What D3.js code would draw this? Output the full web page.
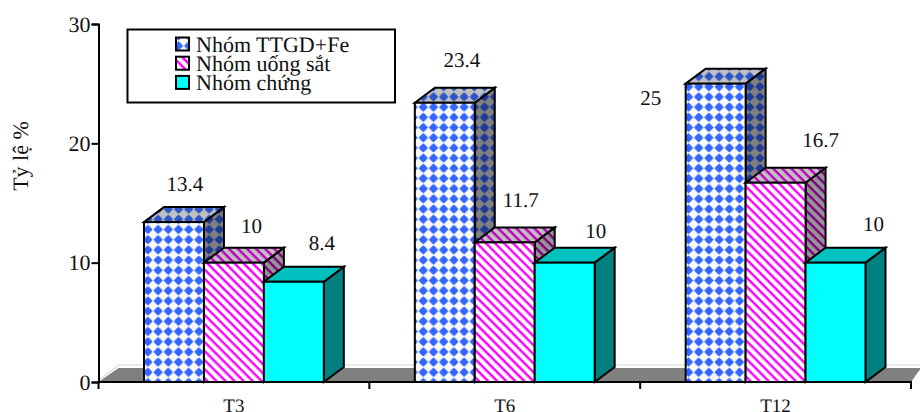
<!DOCTYPE html>
<html><head><meta charset="utf-8">
<script src="https://cdn.jsdelivr.net/npm/d3@7"></script>
<style>
html,body{margin:0;padding:0;background:#fff}
svg{display:block}
text{font-family:"Liberation Serif","Times New Roman",serif;fill:#111;text-rendering:geometricPrecision}
</style></head><body>
<svg id="chart" width="920" height="412"></svg>
<script>
const categories = ["T3", "T6", "T12"];
const seriesNames = ["Nhóm TTGD+Fe", "Nhóm uống sắt", "Nhóm chứng"];
const ttgdFe = [13.4, 23.4, 25];
const uongSat = [10, 11.7, 16.7];
const chung = [8.4, 10, 10];
const yTicks = [0, 10, 20, 30];
const axisTitle = "Tỷ lệ %";
const seriesValues = [ttgdFe, uongSat, chung];

const svg = d3.select("#chart");
const defs = svg.append("defs");

const x = d3.scaleBand().domain(categories).range([98.5, 911]);
const barGap = 45.5;
const s = d3.scaleBand().domain(d3.range(3)).range([barGap, x.bandwidth() - barGap]);
const y = d3.scaleLinear().domain([0, 30]).range([382, 24]);
const depthX = 20, depthY = 15;

// Fill patterns, one set per series and per cube face (front, top, side)
function diamonds(id, bg, fg) {
  const p = defs.append("pattern").attr("id", id).attr("patternUnits", "userSpaceOnUse")
    .attr("width", 10.2).attr("height", 10.2);
  p.append("rect").attr("width", 10.2).attr("height", 10.2).attr("fill", bg);
  p.append("path").attr("d", "M5.1,0.4 L7,2 L9.8,5.1 L7,8.2 L5.1,9.8 L3.2,8.2 L0.4,5.1 L3.2,2 Z").attr("fill", fg);
}
function stripes(id, bg, fg) {
  const p = defs.append("pattern").attr("id", id).attr("patternUnits", "userSpaceOnUse")
    .attr("width", 6.4).attr("height", 6.4).attr("patternTransform", "rotate(45)");
  p.append("rect").attr("width", 6.4).attr("height", 6.4).attr("fill", bg);
  p.append("rect").attr("width", 6.4).attr("height", 2.4).attr("fill", fg);
}
diamonds("dFront", "#fbfbfb", "#3366ff");
diamonds("dTop", "#c0c0c0", "#2d55c8");
diamonds("dSide", "#808080", "#1f3a96");
stripes("sFront", "#ffffff", "#ff00ff");
stripes("sTop", "#c0c0c0", "#c000c0");
stripes("sSide", "#969696", "#800080");

const faces = [
  {front: "url(#dFront)", top: "url(#dTop)", side: "url(#dSide)"},
  {front: "url(#sFront)", top: "url(#sTop)", side: "url(#sSide)"},
  {front: "#00ffff", top: "#00c0c0", side: "#008080"}
];

// Floor of the 3D plot area
const x0 = x.range()[0], x1 = x.range()[1];
svg.append("path")
  .attr("d", `M${x0},${y(0)} L${x0 + depthX},${y(0) - depthY + 1} H${x1 + 10} L${x1},${y(0)} Z`)
  .attr("fill", "#808080");
svg.append("path")
  .attr("d", `M${x0 + 1},${y(0) - 2} L${x0 + depthX},${y(0) - depthY - 2} H920`)
  .attr("fill", "none").attr("stroke", "#d8d8d8").attr("stroke-width", 1.2);

// Cubes, painted left to right so neighbours overlap correctly
categories.forEach((c, ci) => {
  seriesValues.forEach((vals, si) => {
    const v = vals[ci];
    const l = x(c) + s(si), r = l + s.bandwidth(), t = y(v), b = y(0);
    const g = svg.append("g").attr("stroke", "#000").attr("stroke-width", 2).attr("stroke-linejoin", "miter");
    g.append("path").attr("fill", faces[si].side)
      .attr("d", `M${r},${t} L${r + depthX},${t - depthY} V${b - depthY} L${r},${b} Z`);
    g.append("path").attr("fill", faces[si].top)
      .attr("d", `M${l},${t} L${l + depthX},${t - depthY} H${r + depthX} L${r},${t} Z`);
    g.append("rect").attr("x", l).attr("y", t).attr("width", r - l).attr("height", b - t)
      .attr("fill", faces[si].front);
  });
});

// Value labels sit at hand-tuned offsets from the top-front edge of each cube
const labelNudge = [
  [[11, -31], [17.5, -30], [28, -32]],
  [[17, -36], [16, -35], [31, -25]],
  [[-65, 21], [45, -36], [38, -32]]
];
categories.forEach((c, ci) => {
  seriesValues.forEach((vals, si) => {
    const v = vals[ci];
    svg.append("text")
      .attr("x", x(c) + s(si) + s.bandwidth() / 2 + labelNudge[ci][si][0])
      .attr("y", y(v) + labelNudge[ci][si][1])
      .attr("text-anchor", "middle").attr("font-size", 21)
      .text(v);
  });
});

// Axes
const yAxis = d3.axisLeft(y).tickValues(yTicks).tickSize(7).tickPadding(1).tickFormat(d3.format("d"));
const gy = svg.append("g").attr("transform", `translate(${x0},0)`).call(yAxis);
gy.selectAll("path,line").attr("stroke", "#000").attr("stroke-width", 2);
gy.selectAll("text").attr("font-size", 22).style("font-family", '"Liberation Serif",serif').attr("fill", "#111");

const gx = svg.append("g").attr("transform", `translate(0,${y(0)})`);
gx.append("line").attr("x1", x0 - 1).attr("x2", x1 + 1).attr("stroke", "#000").attr("stroke-width", 2);
d3.range(4).forEach(i => {
  const tx = x0 + i * x.step();
  gx.append("line").attr("x1", tx).attr("x2", tx).attr("y1", 0).attr("y2", 7)
    .attr("stroke", "#000").attr("stroke-width", 2);
});
categories.forEach(c => {
  gx.append("text").attr("x", x(c) + x.bandwidth() / 2).attr("y", 29.5)
    .attr("text-anchor", "middle").attr("font-size", 19).text(c);
});

svg.append("text").attr("transform", "translate(28,156) rotate(-90)")
  .attr("text-anchor", "middle").attr("font-size", 22).text(axisTitle);

// Legend
const lg = svg.append("g");
lg.append("rect").attr("x", 127.5).attr("y", 29.5).attr("width", 267.5).attr("height", 73)
  .attr("fill", "#fff").attr("stroke", "#000").attr("stroke-width", 2);
seriesNames.forEach((n, i) => {
  const ly = 37.5 + i * 19.2;
  lg.append("rect").attr("x", 176).attr("y", ly).attr("width", 13).attr("height", 13)
    .attr("fill", faces[i].front).attr("stroke", "#000").attr("stroke-width", 2);
  lg.append("text").attr("x", 196).attr("y", ly + 14.5).attr("font-size", 22).text(n);
});
</script>
</body></html>
